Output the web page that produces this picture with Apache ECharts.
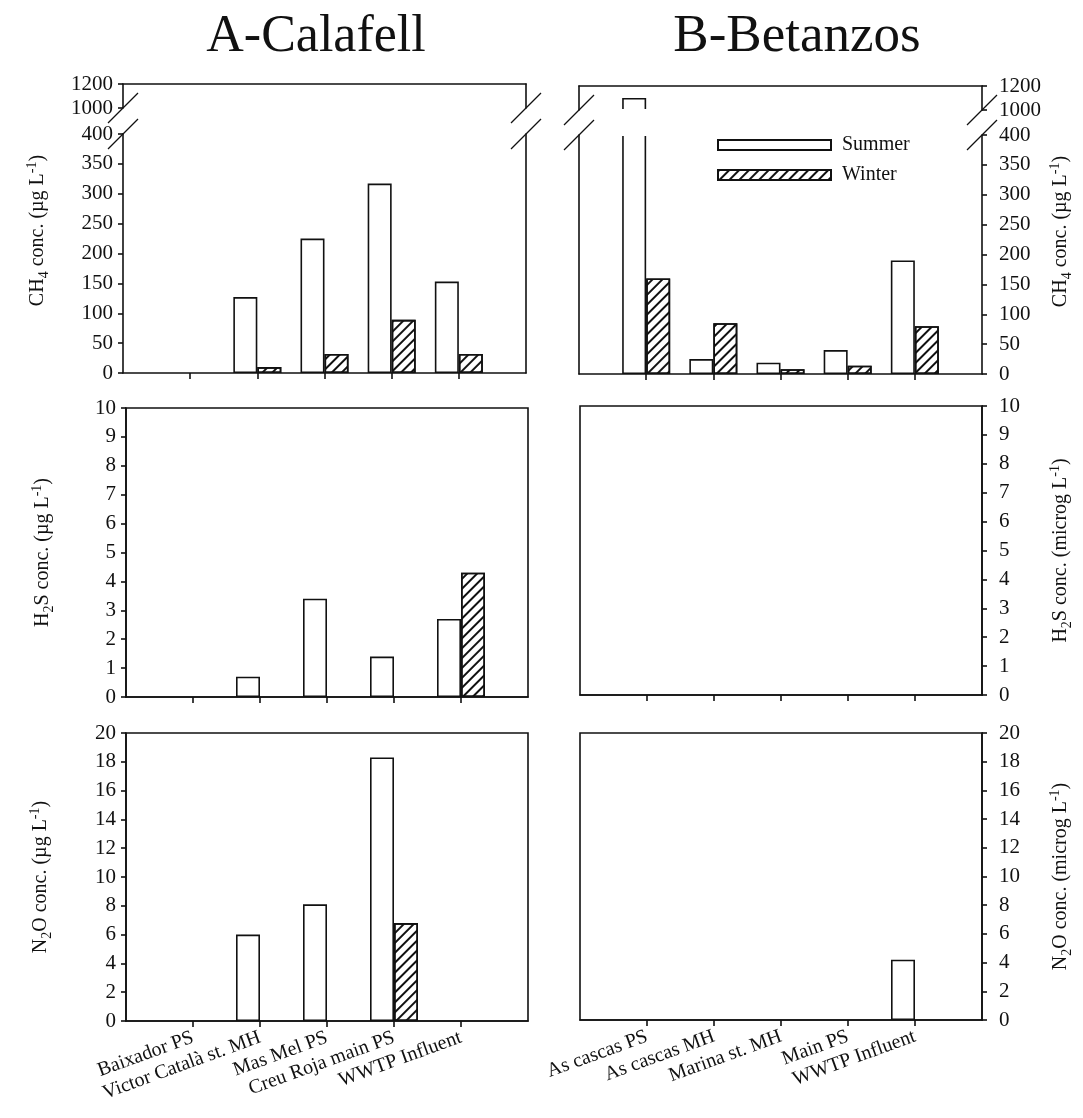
<!DOCTYPE html>
<html><head><meta charset="utf-8">
<script src="https://cdn.jsdelivr.net/npm/echarts@6/dist/echarts.min.js"></script>
<style>html,body{margin:0;padding:0;background:#fff}#c{width:1083px;height:1118px}</style>
</head><body><div id="c"></div>
<script>
// ---------- data ----------
const calafellSites = ['Baixador PS', 'Victor Català st. MH', 'Mas Mel PS', 'Creu Roja main PS', 'WWTP Influent'];
const betanzosSites = ['As cascas PS', 'As cascas MH', 'Marina st. MH', 'Main PS', 'WWTP Influent'];
const seasons = ['Summer', 'Winter'];

const ch4CalafellSummer = [null, 127, 225, 317, 153];
const ch4CalafellWinter = [null, 10, 32, 89, 32];
const ch4BetanzosSummer = [1100, 25, 19, 40, 190];
const ch4BetanzosWinter = [160, 85, 8, 14, 80];

const h2sCalafellSummer = [null, 0.7, 3.4, 1.4, 2.7];
const h2sCalafellWinter = [null, null, null, null, 4.3];
const h2sBetanzosSummer = [null, null, null, null, null];
const h2sBetanzosWinter = [null, null, null, null, null];

const n2oCalafellSummer = [null, 6.0, 8.1, 18.3, null];
const n2oCalafellWinter = [null, null, null, 6.8, null];
const n2oBetanzosSummer = [null, null, null, null, 4.2];
const n2oBetanzosWinter = [null, null, null, null, null];

// axis scales: [min, max, interval]
const ch4LowerScale = [0, 400, 50];
const ch4UpperScale = [1000, 1200, 200];
const h2sScale = [0, 10, 1];
const n2oScale = [0, 20, 2];

// ---------- style ----------
const FONT = 'Liberation Serif';
const INK = '#111';
const LW = 1.6;
const BAR_W = 24;

const richName = {
  t: { fontFamily: FONT, fontSize: 20, color: INK, lineHeight: 26, verticalAlign: 'middle' },
  sub: { fontFamily: FONT, fontSize: 14, color: INK, lineHeight: 26, verticalAlign: 'bottom' },
  sup: { fontFamily: FONT, fontSize: 14, color: INK, lineHeight: 26, verticalAlign: 'top' }
};
const nameCH4 = '{t|CH}{sub|4}{t| conc. (µg L}{sup|-1}{t|)}';
const nameH2Sl = '{t|H}{sub|2}{t|S conc. (µg L}{sup|-1}{t|)}';
const nameN2Ol = '{t|N}{sub|2}{t|O conc. (µg L}{sup|-1}{t|)}';
const nameH2Sr = '{t|H}{sub|2}{t|S conc. (microg L}{sup|-1}{t|)}';
const nameN2Or = '{t|N}{sub|2}{t|O conc. (microg L}{sup|-1}{t|)}';

const hatch = {
  symbol: 'rect', symbolSize: 1,
  dashArrayX: [1, 0], dashArrayY: [1.4, 4.2],
  rotation: -Math.PI / 4, color: '#111'
};

const onSite = (i) => i >= 1 && i <= 5;
const pad = (arr) => [null].concat(arr, [null]);
const padCat = (arr) => [''].concat(arr, [' ']);

const grid = [], xAxis = [], yAxis = [], series = [];

function addGrid(box, border) {
  grid.push(Object.assign({ containLabel: false, show: !!border, borderColor: INK, borderWidth: LW }, box));
  return grid.length - 1;
}
function addX(gi, sites, pos, withTicks, withLabels) {
  xAxis.push({
    type: 'category', gridIndex: gi, position: pos, data: padCat(sites), boundaryGap: false,
    axisLine: { show: true, onZero: false, lineStyle: { color: INK, width: LW } },
    axisTick: { show: withTicks, inside: false, length: 6, interval: onSite, lineStyle: { color: INK, width: LW } },
    axisLabel: { show: withLabels, interval: onSite, rotate: 20, fontFamily: FONT, fontSize: 20, color: INK, margin: 16 },
    splitLine: { show: false }
  });
  return xAxis.length - 1;
}
function addY(gi, scale, pos, main, name, nameGap, namePad) {
  yAxis.push({
    type: 'value', gridIndex: gi, position: pos, min: scale[0], max: scale[1], interval: scale[2],
    axisLine: { show: true, onZero: false, lineStyle: { color: INK, width: LW } },
    axisTick: { show: main, inside: false, length: 5, lineStyle: { color: INK, width: LW } },
    axisLabel: { show: main, fontFamily: FONT, fontSize: 21, color: INK, margin: pos === 'left' ? 10 : 17,
      formatter: (v) => String(v) },
    splitLine: { show: false },
    name: name || '', nameLocation: 'middle', nameRotate: 90, nameGap: nameGap || 0,
    nameTextStyle: { rich: richName, padding: namePad || 0 }
  });
  return yAxis.length - 1;
}
function addBars(xi, yi, summer, winter) {
  series.push({
    type: 'bar', name: seasons[0], xAxisIndex: xi, yAxisIndex: yi, data: pad(summer),
    barWidth: BAR_W, barGap: '0%', clip: true,
    itemStyle: { color: '#fff', borderColor: INK, borderWidth: LW }, emphasis: { disabled: true }
  });
  series.push({
    type: 'bar', name: seasons[1], xAxisIndex: xi, yAxisIndex: yi, data: pad(winter),
    barWidth: BAR_W, barGap: '0%', clip: true,
    itemStyle: { color: '#fff', borderColor: INK, borderWidth: LW, decal: hatch }, emphasis: { disabled: true }
  });
}

// ---------- layout ----------
const colL = { left: 123, width: 403 };
const colR = { left: 579, width: 403 };
const topUpper = { L: { top: 84, height: 24 }, R: { top: 86, height: 24 } };
const topLower = { L: { top: 134, height: 239 }, R: { top: 135, height: 239 } };
const midRow = { L: { left: 126, width: 402, top: 408, height: 289 }, R: { left: 580, width: 402, top: 406, height: 289 } };
const botRow = { L: { left: 126, width: 402, top: 733, height: 288 }, R: { left: 580, width: 402, top: 733, height: 287 } };

// Top-left (CH4 Calafell) with broken axis
let g = addGrid(Object.assign({}, colL, topUpper.L), false);
let xi = addX(g, calafellSites, 'top', false, false);
let yi = addY(g, ch4UpperScale, 'left', true);
addY(g, ch4UpperScale, 'right', false);
addBars(xi, yi, ch4CalafellSummer, ch4CalafellWinter);
g = addGrid(Object.assign({}, colL, topLower.L), false);
xi = addX(g, calafellSites, 'bottom', true, false);
yi = addY(g, ch4LowerScale, 'left', true, nameCH4, 72, [0, 0, 0, 46]);
addY(g, ch4LowerScale, 'right', false);
addBars(xi, yi, ch4CalafellSummer, ch4CalafellWinter);

// Top-right (CH4 Betanzos) with broken axis
g = addGrid(Object.assign({}, colR, topUpper.R), false);
xi = addX(g, betanzosSites, 'top', false, false);
yi = addY(g, ch4UpperScale, 'right', true);
addY(g, ch4UpperScale, 'left', false);
addBars(xi, yi, ch4BetanzosSummer, ch4BetanzosWinter);
g = addGrid(Object.assign({}, colR, topLower.R), false);
xi = addX(g, betanzosSites, 'bottom', true, false);
yi = addY(g, ch4LowerScale, 'right', true, nameCH4, 66, [0, 0, 0, 46]);
addY(g, ch4LowerScale, 'left', false);
addBars(xi, yi, ch4BetanzosSummer, ch4BetanzosWinter);

// Middle (H2S)
g = addGrid(midRow.L, true);
xi = addX(g, calafellSites, 'bottom', true, false);
yi = addY(g, h2sScale, 'left', true, nameH2Sl, 70);
addBars(xi, yi, h2sCalafellSummer, h2sCalafellWinter);
g = addGrid(midRow.R, true);
xi = addX(g, betanzosSites, 'bottom', true, false);
yi = addY(g, h2sScale, 'right', true, nameH2Sr, 66);
addBars(xi, yi, h2sBetanzosSummer, h2sBetanzosWinter);

// Bottom (N2O)
g = addGrid(botRow.L, true);
xi = addX(g, calafellSites, 'bottom', true, true);
yi = addY(g, n2oScale, 'left', true, nameN2Ol, 72);
addBars(xi, yi, n2oCalafellSummer, n2oCalafellWinter);
g = addGrid(botRow.R, true);
xi = addX(g, betanzosSites, 'bottom', true, true);
yi = addY(g, n2oScale, 'right', true, nameN2Or, 66);
addBars(xi, yi, n2oBetanzosSummer, n2oBetanzosWinter);

// ---------- break decorations (derived from the grid layout) ----------
const graphic = [];
function addBreak(col, up, low) {
  const yA = up.top + up.height, yB = low.top;
  graphic.push({ type: 'rect', z: 100, silent: true,
    shape: { x: col.left + 1.5, y: yA - 1, width: col.width - 3, height: yB - yA + 2 },
    style: { fill: '#fff' } });
  [col.left, col.left + col.width].forEach(x => {
    [yA, yB].forEach(y => {
      graphic.push({ type: 'line', z: 101, silent: true,
        shape: { x1: x - 15, y1: y + 15, x2: x + 15, y2: y - 15 },
        style: { stroke: INK, lineWidth: 1.3 } });
    });
  });
}
addBreak(colL, topUpper.L, topLower.L);
addBreak(colR, topUpper.R, topLower.R);

const option = {
  animation: false,
  backgroundColor: '#fff',
  title: [
    { text: 'A-Calafell', left: 311, top: 6, textAlign: 'center',
      textStyle: { fontFamily: FONT, fontSize: 52, fontWeight: 'normal', color: INK } },
    { text: 'B-Betanzos', left: 792, top: 6, textAlign: 'center',
      textStyle: { fontFamily: FONT, fontSize: 53, fontWeight: 'normal', color: INK } }
  ],
  legend: {
    data: seasons, left: 712, top: 130, orient: 'vertical', icon: 'rect', z: 300,
    itemWidth: 113, itemHeight: 10, itemGap: 10, selectedMode: false,
    textStyle: { fontFamily: FONT, fontSize: 20, color: INK, padding: [0, 0, 0, 6] }
  },
  grid, xAxis, yAxis, series, graphic
};
const chart = echarts.init(document.getElementById('c'));
chart.setOption(option);
</script></body></html>
